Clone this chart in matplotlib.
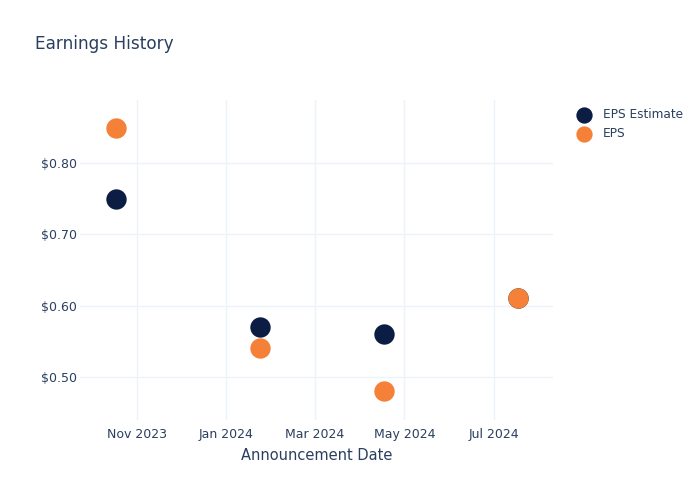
import numpy as np
import pandas as pd
import matplotlib
matplotlib.use("Agg")
import matplotlib.pyplot as plt
import matplotlib.dates as mdates

dates = pd.to_datetime(["2023-10-18", "2024-01-24", "2024-04-17", "2024-07-17"])
eps_estimate = [0.75, 0.57, 0.56, 0.61]
eps_actual = [0.85, 0.54, 0.48, 0.61]

txt = "#2a3f5f"
grid = "#eef2f9"
navy = "#0b1d42"
orange = "#f58138"

plt.rcParams["font.family"] = "DejaVu Sans"

fig = plt.figure(figsize=(7, 5), dpi=100)
ax = fig.add_axes([80 / 700, 80 / 500, 473 / 700, 320 / 500])

ax.scatter(dates, eps_estimate, s=215, color=navy, label="EPS Estimate", zorder=3, linewidths=0)
ax.scatter(dates, eps_actual, s=215, color=orange, label="EPS", zorder=4, linewidths=0)

ax.set_xlim(pd.Timestamp("2023-09-23 12:00"), pd.Timestamp("2024-08-09 22:00"))
ax.set_ylim(0.439, 0.889)

ax.xaxis.set_major_locator(mdates.MonthLocator(bymonth=[1, 3, 5, 7, 9, 11]))
ax.xaxis.set_major_formatter(mdates.DateFormatter("%b %Y"))
ax.set_yticks([0.5, 0.6, 0.7, 0.8])
ax.set_yticklabels([f"${v:.2f}" for v in [0.5, 0.6, 0.7, 0.8]])

for s in ax.spines.values():
    s.set_visible(False)
ax.grid(True, color=grid, linewidth=1)
ax.set_axisbelow(True)
ax.tick_params(length=0, labelsize=9, labelcolor=txt, pad=6)
ax.tick_params(axis="y", pad=2)

ax.set_xlabel("Announcement Date", fontsize=10.5, color=txt, labelpad=5)

fig.text(35 / 700, 1 - 44 / 500, "Earnings History", fontsize=12.2, color=txt, va="center", ha="left")

ax.legend(loc="upper left", bbox_to_anchor=(567 / 700, 1 - 103 / 500),
          bbox_transform=fig.transFigure, frameon=False, fontsize=8.7,
          labelcolor=txt, markerscale=0.8, handletextpad=0.55,
          labelspacing=0.5, borderaxespad=0)

fig.savefig("out.png", dpi=100)
